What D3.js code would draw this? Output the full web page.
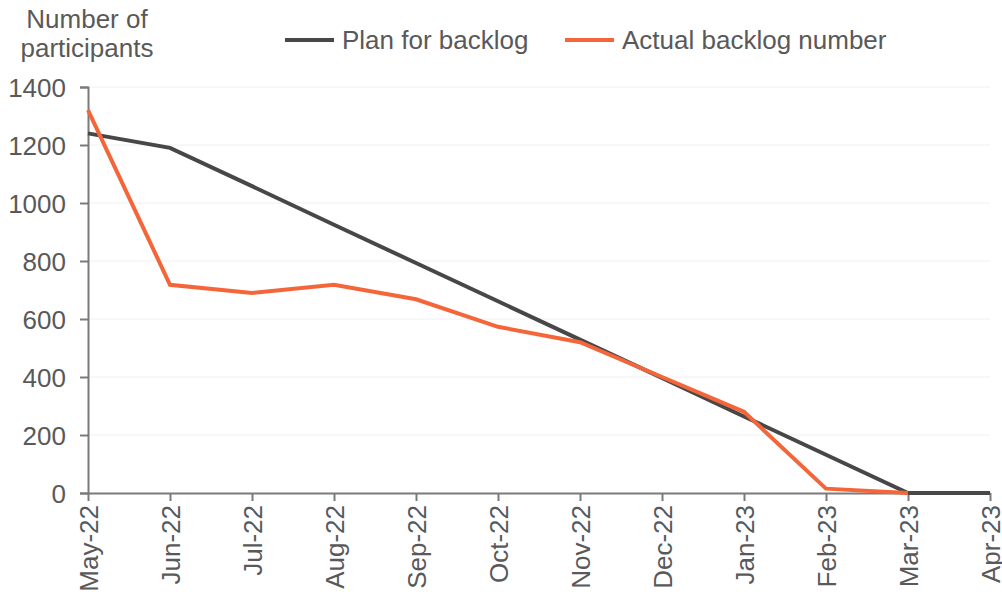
<!DOCTYPE html>
<html lang="en">
    <head>
        <meta charset="UTF-8" />
        <title>Backlog</title>
        <script src="https://d3js.org/d3.v7.js"></script>
    </head>

    <body>
        <div id="dataviz"></div>
    </body>

    <script>
        const months = ["May-22", "Jun-22", "Jul-22", "Aug-22", "Sep-22", "Oct-22", "Nov-22",
                        "Dec-22", "Jan-23", "Feb-23", "Mar-23", "Apr-23"];
        const plan = [1240, 1190, 1058, 925, 793, 661, 529, 397, 264, 132, 0, 0];
        const actual = [1320, 718, 690, 718, 668, 573, 520, 400, 280, 15, 0];
        const yTicks = [0, 200, 400, 600, 800, 1000, 1200, 1400];

        const margin = {top: 87, right: 12, bottom: 104, left: 88},
            width = 1002 - margin.left - margin.right,
            height = 597 - margin.top - margin.bottom;

        const textColor = "#595959";
        const axisColor = "#7a7a7a";
        const fontSize = "26px";

        const root = d3.select("#dataviz")
            .append("svg")
            .attr("width", 1002)
            .attr("height", 597)
            .style("font-family", "'Liberation Sans', Arial, sans-serif");

        const svg = root.append("g")
            .attr("transform", `translate(${margin.left},${margin.top})`);

        const x = d3.scalePoint()
            .domain(months)
            .range([0, width]);

        const y = d3.scaleLinear()
            .domain([0, 1400])
            .range([height, 0]);

        // gridlines
        svg.append("g")
            .selectAll("line")
            .data(yTicks.filter(d => d > 0))
            .join("line")
            .attr("x1", 0)
            .attr("x2", width)
            .attr("y1", d => y(d))
            .attr("y2", d => y(d))
            .attr("stroke", "#f0f0f0")
            .attr("stroke-width", 1);

        const yAxis = svg.append("g")
            .call(d3.axisLeft(y).tickValues(yTicks).tickFormat(d3.format("d")).tickSize(8).tickPadding(14));
        yAxis.select(".domain").attr("stroke", axisColor).attr("stroke-width", 2);
        yAxis.selectAll(".tick line").attr("stroke", axisColor).attr("stroke-width", 2);
        yAxis.selectAll("text")
            .attr("fill", textColor)
            .style("font-size", fontSize)
            .attr("dy", "0.35em");

        const xAxis = svg.append("g")
            .attr("transform", `translate(0, ${height})`)
            .call(d3.axisBottom(x).tickSize(8).tickSizeOuter(0));
        xAxis.select(".domain").attr("stroke", axisColor).attr("stroke-width", 2);
        xAxis.selectAll(".tick line").attr("stroke", axisColor).attr("stroke-width", 2);
        xAxis.selectAll("text")
            .attr("fill", textColor)
            .style("font-size", fontSize)
            .attr("text-anchor", "end")
            .attr("transform", "rotate(-90)")
            .attr("x", -12)
            .attr("y", 0)
            .attr("dy", "0.35em");

        const line = d3.line()
            .x((d, i) => x(months[i]))
            .y(d => y(d));

        svg.append("path")
            .datum(plan)
            .attr("fill", "none")
            .attr("stroke", "#474747")
            .attr("stroke-width", 4)
            .attr("d", line);

        svg.append("path")
            .datum(actual)
            .attr("fill", "none")
            .attr("stroke", "#F4663A")
            .attr("stroke-width", 4)
            .attr("d", line);

        // y title
        const title = root.append("text")
            .attr("fill", textColor)
            .style("font-size", fontSize)
            .attr("text-anchor", "middle");
        title.append("tspan").attr("x", 87).attr("y", 28).text("Number of");
        title.append("tspan").attr("x", 87).attr("y", 57).text("participants");

        // legend
        const legend = [
            {name: "Plan for backlog", color: "#474747", x: 285},
            {name: "Actual backlog number", color: "#F4663A", x: 565}
        ];
        const lg = root.append("g")
            .selectAll("g")
            .data(legend)
            .join("g")
            .attr("transform", d => `translate(${d.x}, 40)`);
        lg.append("line")
            .attr("x1", 0).attr("x2", 49)
            .attr("stroke", d => d.color)
            .attr("stroke-width", 4);
        lg.append("text")
            .attr("x", 57)
            .attr("dy", "0.35em")
            .attr("fill", textColor)
            .style("font-size", fontSize)
            .text(d => d.name);
    </script>

    <style>
        body { margin: 0; }
        svg { display: block; }
    </style>
</html>
